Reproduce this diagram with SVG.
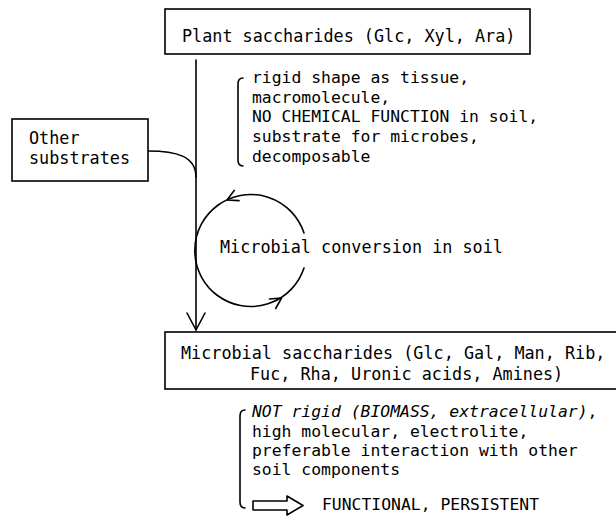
<svg xmlns="http://www.w3.org/2000/svg" width="616" height="518" viewBox="0 0 616 518">
<style>
text{font-family:"DejaVu Sans Mono","Liberation Mono",monospace;font-size:16.4px;fill:#000}
.bt{font-size:16.8px}
.box{fill:#fff;stroke:#000;stroke-width:1.6}
.ln{fill:none;stroke:#000;stroke-width:1.6;stroke-linecap:round;stroke-linejoin:round}
.it{font-style:italic}
</style>
<rect width="616" height="518" fill="#fff"/>
<g id="connectors">
<path class="ln" d="M196 60 L196 330"/>
<path class="ln" d="M187 313 L196 330 L205 313"/>
<path class="ln" d="M148 151 C176 151 196 156 196 177"/>
<path class="ln" d="M304 233 A56 56 0 1 0 304 268"/>
<path class="ln" d="M239 200.6 L227 200 L234.2 190.4"/>
<path class="ln" d="M269.5 299 L281.5 298 L275.7 308.5"/>
</g>
<g id="plant">
<rect class="box" x="165" y="9" width="365" height="45"/>
<text class="bt" x="182" y="42">Plant saccharides (Glc, Xyl, Ara)</text>
</g>
<g id="plant-notes">
<path class="ln" d="M243 78 Q238 78 238 84 L238 160 Q238 166 243 166"/>
<text x="252" y="83">rigid shape as tissue,</text>
<text x="252" y="103">macromolecule,</text>
<text x="252" y="122">NO CHEMICAL FUNCTION in soil,</text>
<text x="252" y="142">substrate for microbes,</text>
<text x="252" y="162">decomposable</text>
</g>
<g id="other">
<rect class="box" x="12" y="119" width="136" height="62"/>
<text class="bt" x="29" y="144">Other</text>
<text class="bt" x="29" y="164">substrates</text>
</g>
<g id="conversion">
<text class="bt" x="220" y="253">Microbial conversion in soil</text>
</g>
<g id="microbial">
<rect class="box" x="165" y="332" width="460" height="57"/>
<text class="bt" x="181" y="359">Microbial saccharides (Glc, Gal, Man, Rib,</text>
<text class="bt" x="250" y="380">Fuc, Rha, Uronic acids, Amines)</text>
</g>
<g id="microbial-notes">
<path class="ln" d="M245 410 Q240 410 240 416 L240 502 Q240 508 245 508"/>
<text x="252" y="417"><tspan class="it">NOT rigid (BIOMASS, extracellular)</tspan>,</text>
<text x="252" y="437">high molecular, electrolite,</text>
<text x="252" y="456">preferable interaction with other</text>
<text x="252" y="475">soil components</text>
<path class="ln" d="M253 501 L287 501 L287 496 L303 505.5 L287 515 L287 510 L253 510 Z"/>
<text x="322" y="510">FUNCTIONAL, PERSISTENT</text>
</g>
</svg>
